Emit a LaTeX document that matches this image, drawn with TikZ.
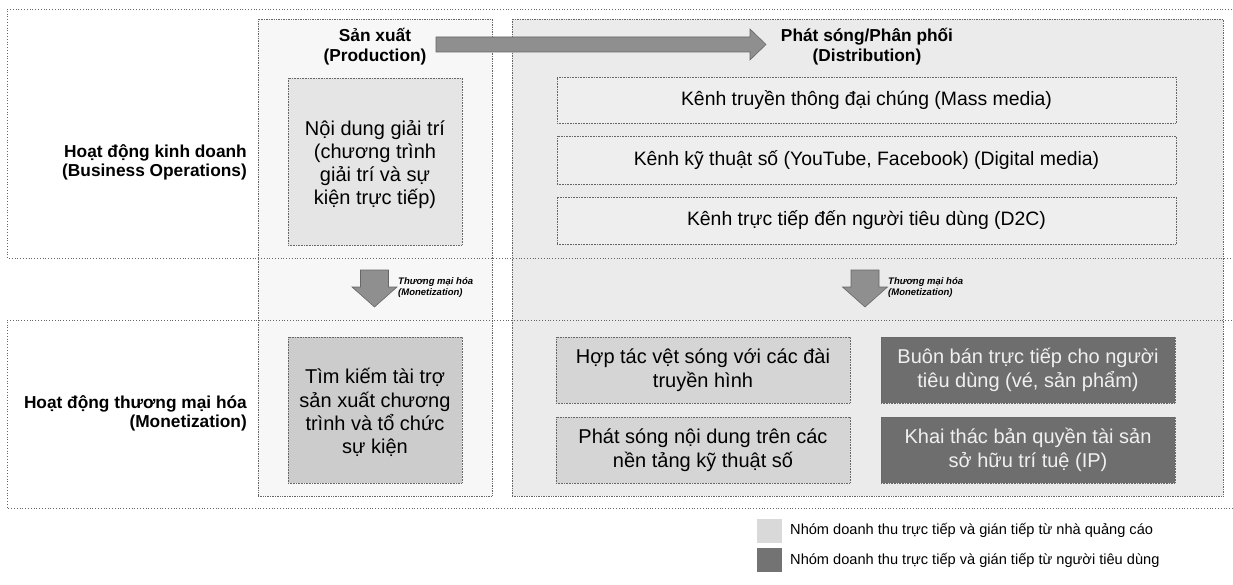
\documentclass[tikz,border=0pt]{standalone}
\usepackage{fontspec}
\setmainfont{Liberation Sans}
\usetikzlibrary{calc}
\definecolor{prodfill}{HTML}{F7F7F7}
\definecolor{distfill}{HTML}{EBEBEB}
\definecolor{contfill}{HTML}{E5E5E5}
\definecolor{chanfill}{HTML}{EEEEEE}
\definecolor{advfill}{HTML}{D5D5D5}
\definecolor{consfill}{HTML}{6E6E6E}
\definecolor{arrowfill}{HTML}{8F8F8F}
\definecolor{framecol}{HTML}{666666}
\tikzset{
  rowframe/.style={draw=black!60, dotted, line width=0.8pt},
  colframe/.style={draw=framecol, densely dotted, line width=0.7pt, inner sep=0pt},
  boxbase/.style={draw=framecol, densely dotted, line width=0.6pt, inner sep=0pt, align=center},
  boxtext/.style={inner sep=0pt, align=center},
  contbox/.style={boxbase, fill=contfill},
  chanbox/.style={boxbase, fill=chanfill, font=\fontsize{19.4}{22}\selectfont},
  advbox/.style={boxbase, fill=advfill, font=\fontsize{20}{24.5}\selectfont},
  consbox/.style={boxbase, fill=consfill, text=white!94!black, font=\fontsize{20}{24.5}\selectfont},
  headlabel/.style={font=\fontsize{17.3}{20}\selectfont\bfseries, align=center, inner sep=0pt},
  sidelabel/.style={font=\fontsize{17.3}{18.5}\selectfont\bfseries, align=right, inner sep=0pt, anchor=east},
  monlabel/.style={font=\fontsize{9.5}{11}\selectfont\bfseries\itshape, align=left, inner sep=0pt, anchor=west},
  blockarrow/.style={fill=arrowfill, draw=black!60, line width=0.6pt},
  legendsq/.style={minimum width=25pt, minimum height=24pt, inner sep=0pt},
  legendtext/.style={font=\fontsize{14.6}{16}\selectfont, anchor=west, inner sep=0pt}
}
\begin{document}
\begin{tikzpicture}[x=1pt,y=-1pt]
\useasboundingbox (0,0) rectangle (1233,585);
\clip (0,0) rectangle (1233,585);
\fill[white] (0,0) rectangle (1233,585);

% columns
\node[colframe, fill=prodfill, minimum width=234pt, minimum height=477pt] (prodcol) at (375,257.5) {};
\node[colframe, fill=distfill, minimum width=711pt, minimum height=477pt] (distcol) at (867.5,257.5) {};

% row frames (open to the right, running off the page)
\draw[rowframe] (1240,9) -- (7,9) -- (7,258) -- (1240,258);
\draw[rowframe] (1240,320) -- (7,320) -- (7,508) -- (1240,508);

% column titles
\node[headlabel] (prodtitle) at (375,46.5) {Sản xuất\\(Production)};
\node[headlabel] (disttitle) at (867,46.5) {Phát sóng/Phân phối\\(Distribution)};

% side labels
\node[sidelabel] (bizlabel) at (247,162.5) {Hoạt động kinh doanh\\(Business Operations)};
\node[sidelabel] (monlabel) at (247,413.5) {Hoạt động thương mại hóa\\(Monetization)};

% production content
\node[contbox, minimum width=174pt, minimum height=167pt] (content) at (375,161.5) {};
\node[boxtext, font=\fontsize{20}{23}\selectfont] (contenttext) at ([yshift=-3pt]content.center)
  {Nội dung giải trí\\(chương trình\\giải trí và sự\\kiện trực tiếp)};
\node[contbox, fill=advfill!96!black, minimum width=174pt, minimum height=146pt] (sponsor) at (375,410) {};
\node[boxtext, font=\fontsize{20}{23.3}\selectfont] (sponsortext) at ([yshift=-2.5pt]sponsor.center)
  {Tìm kiếm tài trợ\\sản xuất chương\\trình và tổ chức\\sự kiện};

% distribution channels
\node[chanbox, minimum width=619pt, minimum height=46pt] (ch1) at (866.5,100) {Kênh truyền thông đại chúng (Mass media)};
\node[chanbox, minimum width=619pt, minimum height=48pt] (ch2) at (866.5,160) {Kênh kỹ thuật số (YouTube, Facebook) (Digital media)};
\node[chanbox, minimum width=619pt, minimum height=47pt] (ch3) at (866.5,220.5) {Kênh trực tiếp đến người tiêu dùng (D2C)};

% distribution monetization
\node[advbox, minimum width=294pt, minimum height=66pt] (m1) at (703,370) {Hợp tác vệt sóng với các đài\\truyền hình};
\node[consbox, minimum width=294pt, minimum height=66pt] (m2) at (1028,370) {Buôn bán trực tiếp cho người\\tiêu dùng (vé, sản phẩm)};
\node[advbox, minimum width=294pt, minimum height=66pt] (m3) at (703,450) {Phát sóng nội dung trên các\\nền tảng kỹ thuật số};
\node[consbox, minimum width=294pt, minimum height=66pt] (m4) at (1028,450) {Khai thác bản quyền tài sản\\sở hữu trí tuệ (IP)};

% horizontal block arrow from production to distribution
\coordinate (hs) at (436,44.5);
\coordinate (he) at (766,44.5);
\draw[blockarrow] ($(hs)+(0,-7.5)$) -- ($(he)+(-16,-7.5)$) -- ($(he)+(-16,-15.5)$) -- (he)
  -- ($(he)+(-16,15.5)$) -- ($(he)+(-16,7.5)$) -- ($(hs)+(0,7.5)$) -- cycle;

% down arrows (monetization)
\coordinate (d1s) at (374.5,270);
\coordinate (d1e) at (374.5,307);
\coordinate (d2s) at (865,270);
\coordinate (d2e) at (865,307);
\foreach \s/\e in {d1s/d1e, d2s/d2e}{
  \draw[blockarrow] ($(\s)+(-14,0)$) -- ($(\s)+(14,0)$) -- ($(\e)+(14,-20)$) -- ($(\e)+(22.5,-20)$)
    -- (\e) -- ($(\e)+(-22.5,-20)$) -- ($(\e)+(-14,-20)$) -- cycle;
}
\node[monlabel] (mon1) at (398,287.5) {Thương mại hóa\\(Monetization)};
\node[monlabel] (mon2) at (888,287.5) {Thương mại hóa\\(Monetization)};

% legend
\node[legendsq, fill=black!15] (lg1) at (769.5,530.5) {};
\node[legendsq, fill=black!55] (lg2) at (769.5,560) {};
\node[legendtext] (lt1) at (790,530.5) {Nhóm doanh thu trực tiếp và gián tiếp từ nhà quảng cáo};
\node[legendtext] (lt2) at (790,560) {Nhóm doanh thu trực tiếp và gián tiếp từ người tiêu dùng};
\end{tikzpicture}
\end{document}
